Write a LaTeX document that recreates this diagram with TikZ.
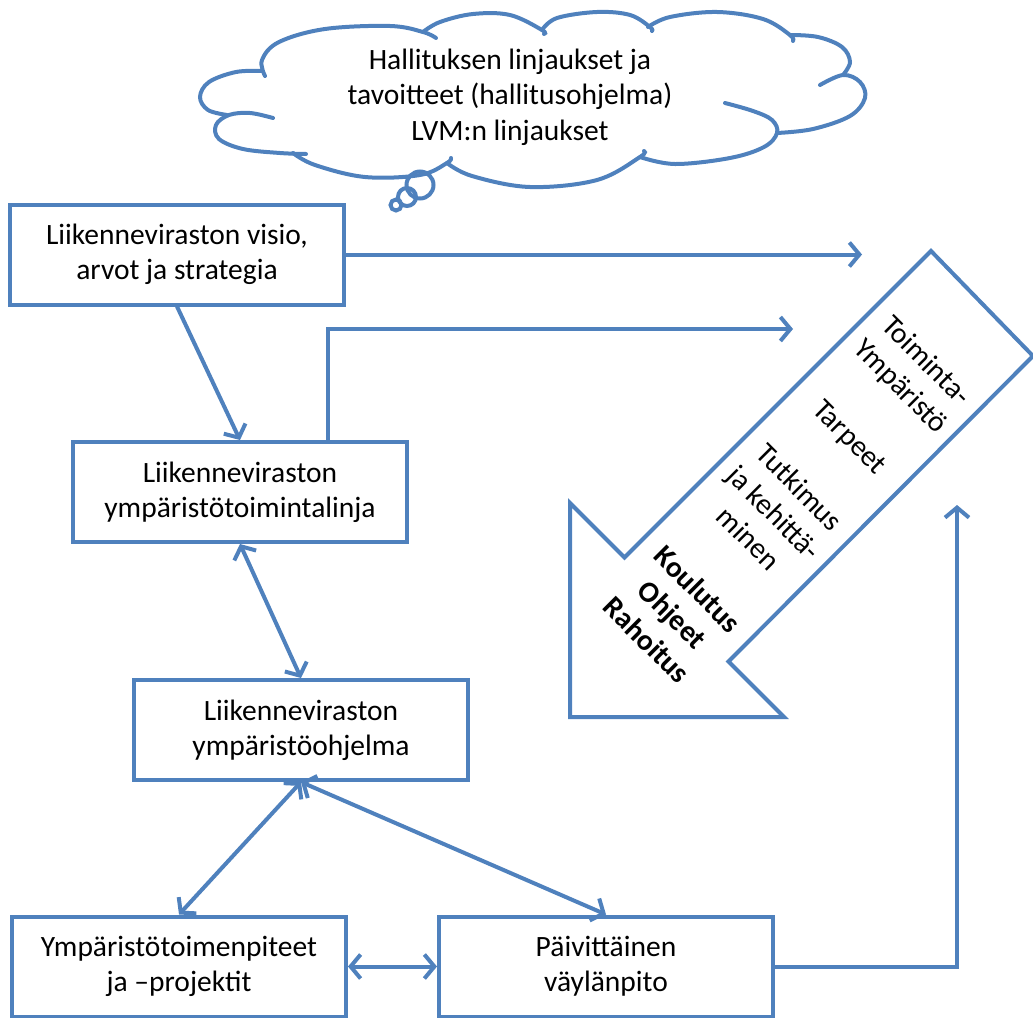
\documentclass[tikz,border=0pt]{standalone}
\usepackage{fontspec}
\setmainfont{Carlito}
\usetikzlibrary{arrows.meta}
\definecolor{ob}{HTML}{4F81BD}
\begin{document}
\begin{tikzpicture}[x=1pt,y=-1pt,
  >={Straight Barb[length=10pt,width=24pt]},
  box/.style={draw=ob, line width=4pt, minimum width=334pt, minimum height=100pt,
    inner sep=0pt, align=center, font=\fontsize{29.5}{35}\selectfont},
  conn/.style={draw=ob, line width=4pt},
  cloudline/.style={draw=ob, line width=4pt, line cap=round},
  txt/.style={align=center, font=\fontsize{29.5}{35.5}\selectfont}]
\useasboundingbox (0,0) rectangle (1033,1017);

% cloud
\draw[cloudline] plot[smooth, tension=0.6] coordinates {(436,38) (423,32) (390,26) (325,29) (279,42) (262,60) (265,76)};
\draw[cloudline] plot[smooth, tension=0.6] coordinates {(262,71) (236,72) (209,82) (200,97) (208,110) (227,115)};
\draw[cloudline] plot[smooth, tension=0.6] coordinates {(273,118) (250,113) (229,115) (216,125) (219,139) (243,149) (280,153) (306,154)};
\draw[cloudline] plot[smooth, tension=0.6] coordinates {(293,153) (315,165) (365,177) (420,175) (447,163) (451,158)};
\draw[cloudline] plot[smooth, tension=0.6] coordinates {(447,163) (472,176) (530,187) (597,180) (640,157) (644,151)};
\draw[cloudline] plot[smooth, tension=0.6] coordinates {(640,157) (675,164) (730,158) (764,147) (777,133) (772,120) (753,111) (725,103)};
\draw[cloudline] plot[smooth, tension=0.6] coordinates {(777,133) (813,129) (850,116) (865,98) (860,82) (843,75) (820,85)};
\draw[cloudline] plot[smooth, tension=0.6] coordinates {(843,75) (850,62) (842,47) (818,37) (790,35)};
\draw[cloudline] plot[smooth, tension=0.6] coordinates {(648,27) (670,17) (717,12) (763,19) (790,35) (793,41)};
\draw[cloudline] plot[smooth, tension=0.6] coordinates {(542,30) (557,18) (597,12) (630,15) (650,27) (652,31)};
\draw[cloudline] plot[smooth, tension=0.6] coordinates {(423,32) (440,22) (473,14) (510,15) (542,30) (544,34)};
\draw[cloudline] (420,185) circle[radius=13.5pt];
\draw[cloudline] (407,197) circle[radius=9pt];
\draw[cloudline] (396,205) circle[radius=5.5pt];
\node[txt] (cloudtxt) at (510,97) {Hallituksen linjaukset ja\\tavoitteet (hallitusohjelma)\\LVM:n linjaukset};

% big arrow
\draw[draw=ob, line width=4pt, line join=miter] (931,251) -- (1033,356) -- (728.5,661.5) -- (784,717) -- (570,717) -- (570,503) -- (624.5,557.5) -- cycle;
\node[rotate=-45, align=center, font=\fontsize{29.5}{36}\selectfont] (arrtext) at (787,500)
  {Toiminta-\\Ympäristö\\[36pt]Tarpeet\\[36pt]Tutkimus\\ja kehittä-\\minen\\[36pt]\textbf{Koulutus}\\\textbf{Ohjeet}\\\textbf{Rahoitus}};

% boxes
\node[box] (visio) at (177,254.5) {Liikenneviraston visio,\\arvot ja strategia};
\node[box] (toiml) at (240,492) {Liikenneviraston\\ympäristötoimintalinja};
\node[box] (ohj) at (301,730) {Liikenneviraston\\ympäristöohjelma};
\node[box] (toimenp) at (179,966.5) {Ympäristötoimenpiteet\\ja –projektit};
\node[box] (paiv) at (606,966.5) {Päivittäinen\\väylänpito};

\coordinate (e1) at (862,254.5);
\coordinate (bend) at (328,329);
\coordinate (e2) at (793,329);
\coordinate (e3) at (957,505);

\draw[conn,->] (visio.east) -- (e1);
\draw[conn,->] (visio.south) -- (toiml.north);
\draw[conn,->] (toiml.north -| bend) -- (bend) -- (e2);
\draw[conn,<->] (toiml.south) -- (ohj.north);
\draw[conn,<->] (ohj.south) -- (toimenp.north);
\draw[conn,<->] (ohj.south) -- (paiv.north);
\draw[conn,<->] (toimenp.east) -- (paiv.west);
\draw[conn,->] (paiv.east) -| (e3);
\end{tikzpicture}
\end{document}
